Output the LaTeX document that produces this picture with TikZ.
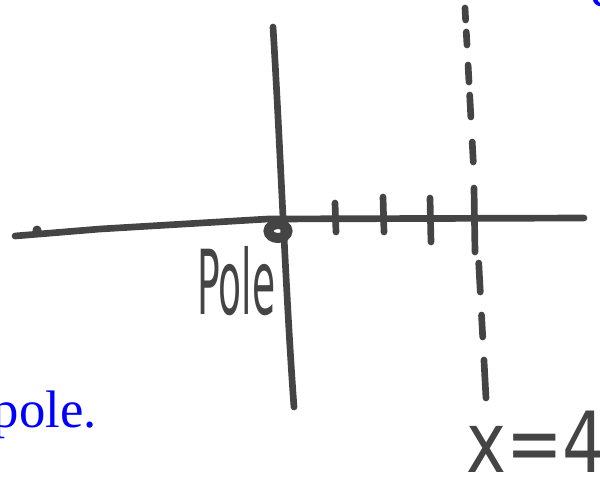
\documentclass[tikz,border=0pt]{standalone}
\usepackage{fontspec}
\usepackage{xcolor}
\usepackage{graphicx}
\usepackage{tikz}
\usetikzlibrary{calc, positioning}
\newfontfamily\handfont{DejaVu Sans}
\newfontfamily\bookfont{Liberation Serif}
\definecolor{pencil}{HTML}{444444}

\begin{document}
\begin{tikzpicture}[
    x=0.02cm, y=-0.02cm,
    axis/.style={draw=pencil, line width=3.8pt, line cap=round, line join=round},
    tickmark/.style={draw=pencil, line width=3.8pt, line cap=round},
    dashseg/.style={draw=pencil, line width=3.8pt, line cap=round},
    hand/.style={text=pencil, inner sep=0pt, font=\handfont\fontsize{51}{51}\selectfont},
    book/.style={text=blue, inner sep=0pt, font=\bookfont\fontsize{30}{30}\selectfont}
]
\useasboundingbox (0,0) rectangle (600,481);

% axes through the pole
\coordinate (west)  at (15,236);
\coordinate (east)  at (584,218);
\coordinate (north) at (273,27);
\coordinate (south) at (294,407);
\coordinate (pole)  at (278,231);

\draw[axis] (west) -- (100,229) -- (268,219) -- (east);
\fill[pencil] (37,230) circle (4.5);
\draw[axis] (north) .. controls (280,140) and (286,300) .. (south);
\draw[pencil, line width=5.7pt] (pole) ellipse (9.5 and 7);

% unit marks
\foreach \tx/\ya/\yb in {335/203/232, 383/197/232, 430/198/242, 474/188/252}
    \draw[tickmark] (\tx,\ya) -- (\tx+1,\yb);

% the line x=4
\coordinate (dtop) at (465,8);
\coordinate (dbot) at (486,398);
\foreach \ya/\yb in {8/20, 32/45, 65/82, 95/117, 142/162, 263/292, 315/337, 360/398}
    \draw[dashseg] ($(dtop)!{(\ya-8)/390}!(dbot)$) -- ($(dtop)!{(\yb-8)/390}!(dbot)$);

% labels
\node[hand, anchor=base west] (polelabel) at (197,314) {\scalebox{0.42}[1]{Pole}};
\node[hand, anchor=base west, font=\handfont\fontsize{48}{48}\selectfont] (linelabel) at (466,472) {\scalebox{0.8}[1]{x=4}};
\node[book, anchor=base east] (poletext) at (97,427) {pole.};
\node[book, anchor=base west] (cutword) at (590,6) {e};
\end{tikzpicture}
\end{document}
